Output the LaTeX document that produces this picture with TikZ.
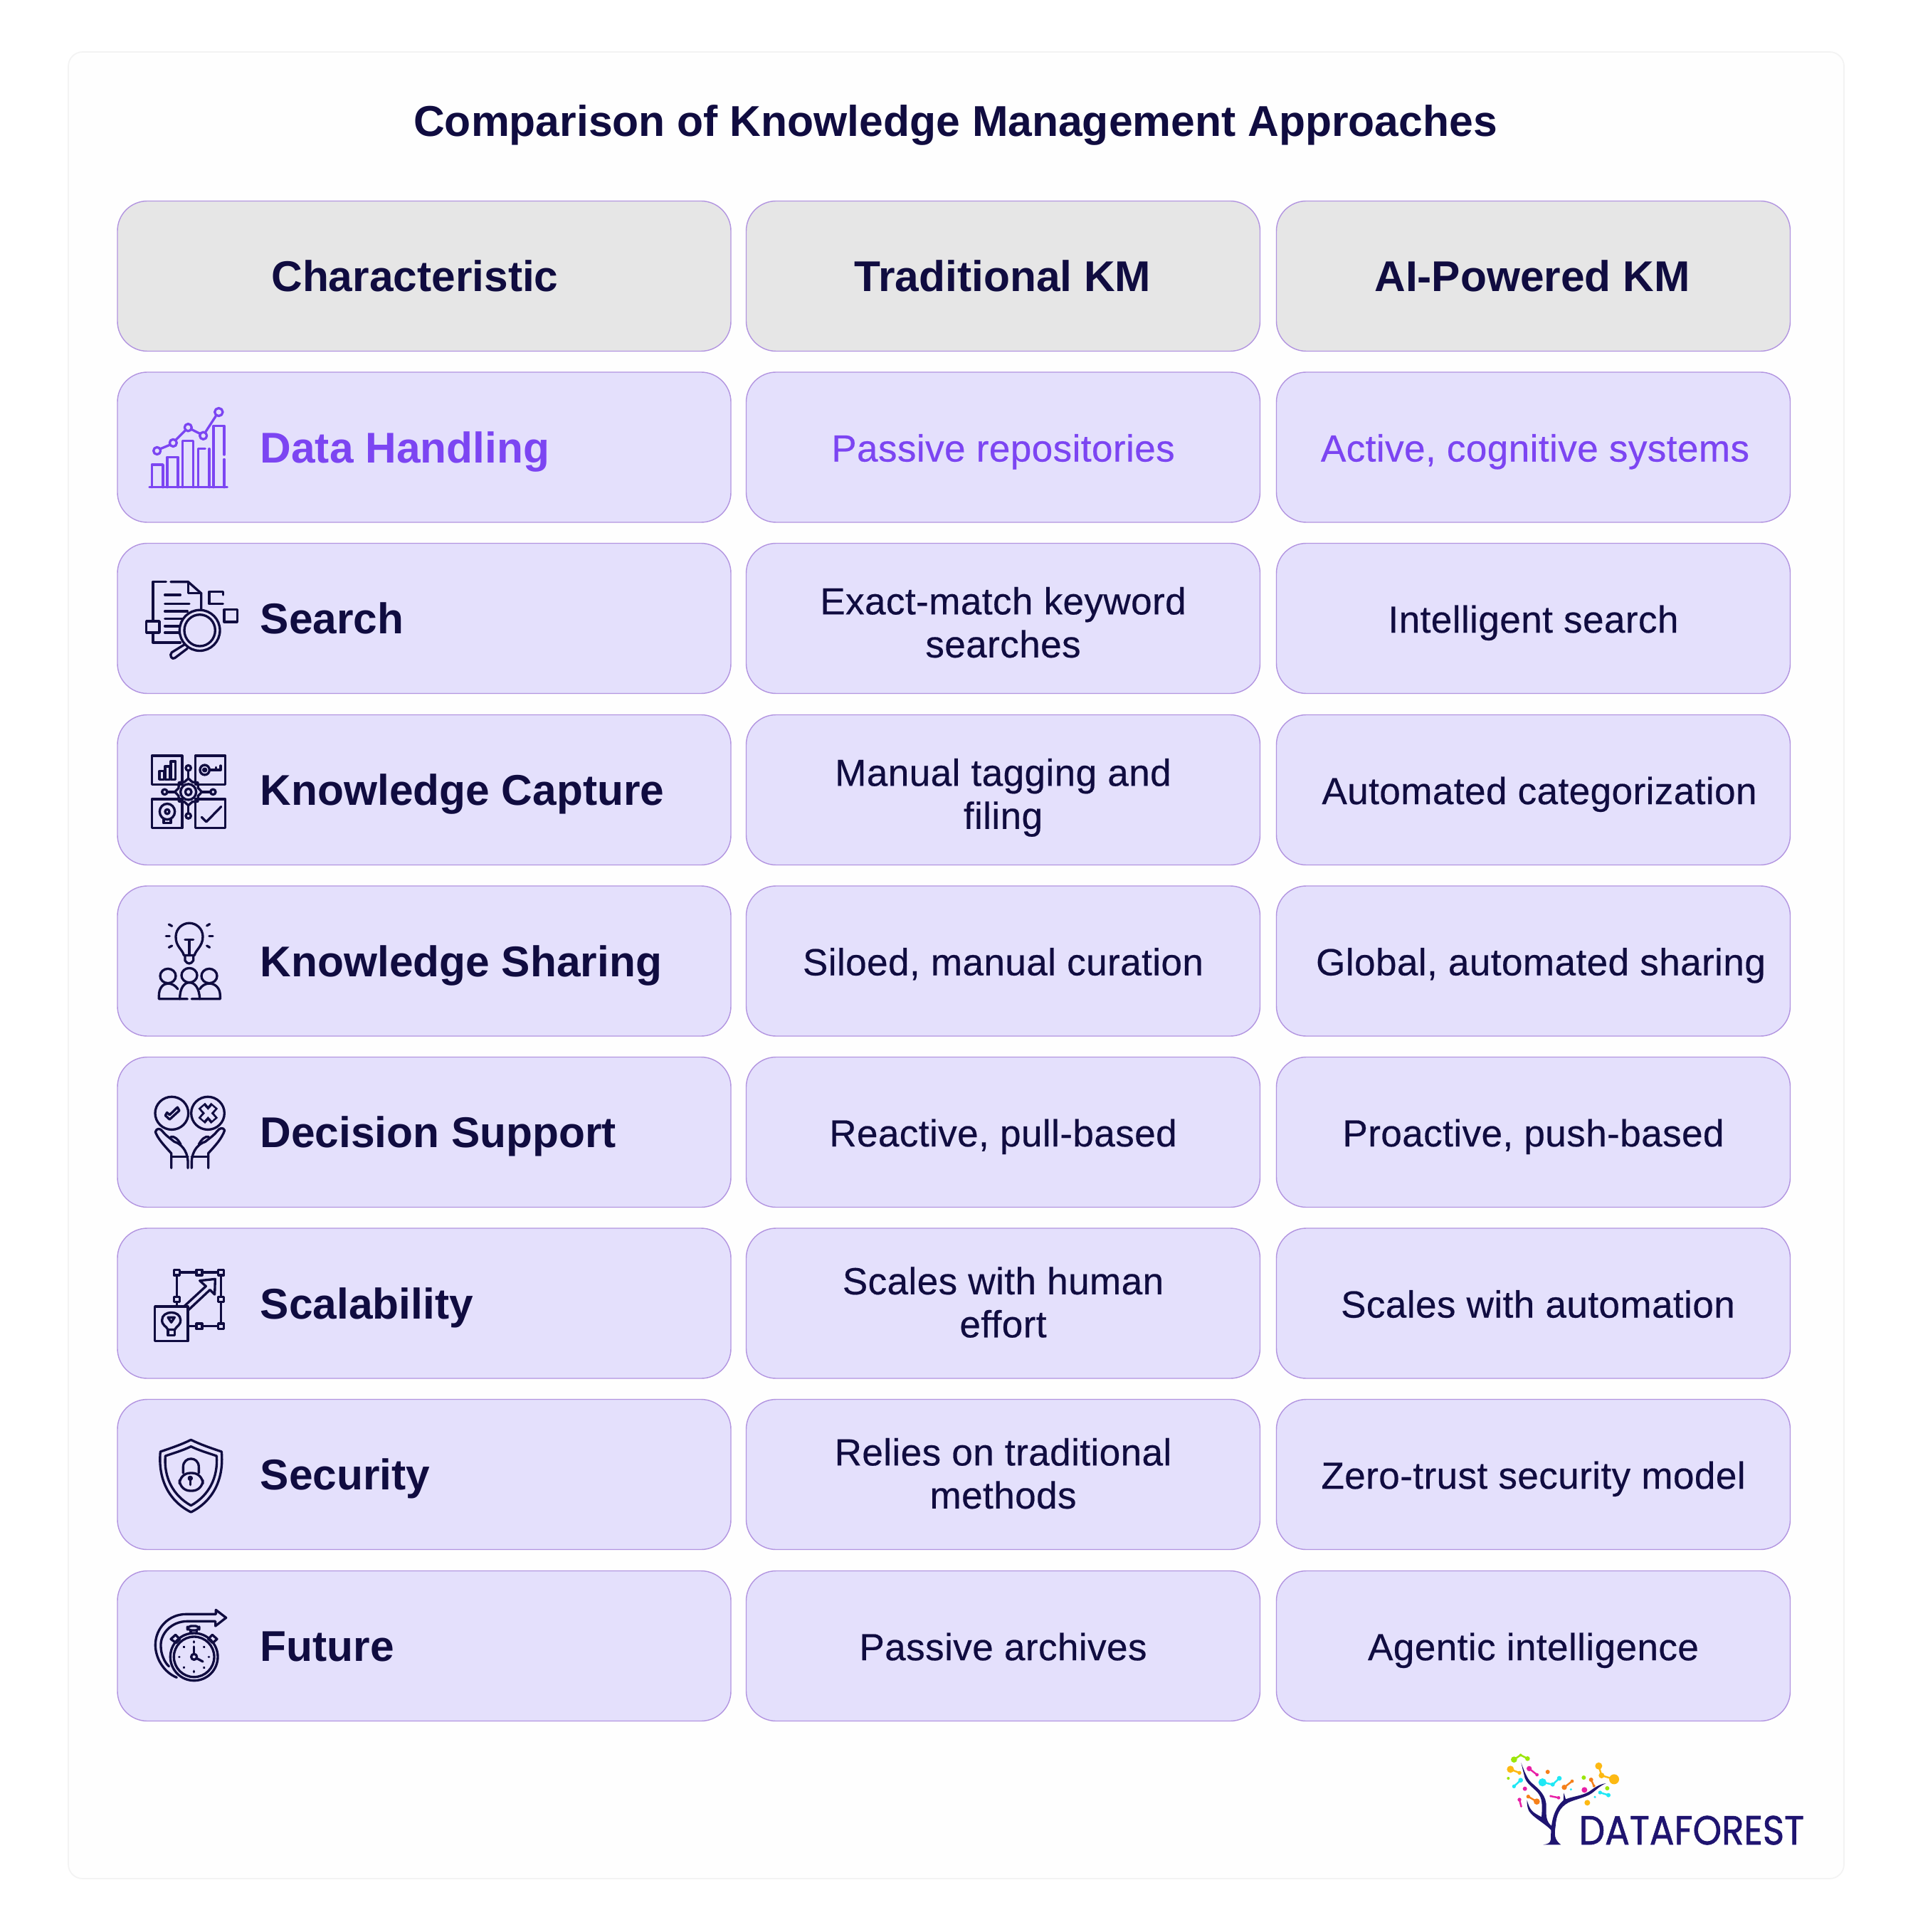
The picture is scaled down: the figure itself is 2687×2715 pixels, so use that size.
\documentclass[tikz,border=0pt]{standalone}
\usepackage{fontspec}
\setmainfont{Liberation Sans}
\newfontfamily\mediumfont[FakeBold=0.4,LetterSpace=0.8]{Liberation Sans}
\newfontfamily\strongfont[BoldFont={Liberation Sans Bold}]{Liberation Sans}
\newfontfamily\logofont[FakeBold=1.2]{Poppins}
\definecolor{ink}{HTML}{100C40}
\definecolor{violet}{HTML}{7C45F2}
\definecolor{rowfill}{HTML}{E4E0FC}
\definecolor{headfill}{HTML}{E6E6E6}
\definecolor{cellborder}{HTML}{B294E0}
\definecolor{cardborder}{HTML}{F3F3F3}
\definecolor{cardfill}{HTML}{FEFEFE}
\definecolor{treeink}{HTML}{1F1470}
\definecolor{dotyellow}{HTML}{FDB913}
\definecolor{dotgreen}{HTML}{9BE60A}
\definecolor{dotpink}{HTML}{E81FA6}
\definecolor{dotcyan}{HTML}{1FE8F5}
\definecolor{dotorange}{HTML}{F5801A}
\begin{document}
\begin{tikzpicture}[
        x=0.1mm, y=-0.1mm,
        cell/.style={rectangle, draw=cellborder, line width=0.4pt, rounded corners=4.2mm, inner sep=0pt, minimum height=21.1mm, fill=rowfill},
        wide_cell/.style={cell, minimum width=86.2mm},
        value_cell/.style={cell, minimum width=72.2mm, align=center, text=ink, font=\mediumfont\fontsize{15.1}{17.2}\selectfont},
        single_line/.style={text height=13pt, text depth=1.6pt},
        two_line/.style={text height=32.2pt, text depth=1pt},
        two_line_high/.style={text height=28.2pt, text depth=1pt},
        head_cell/.style={fill=headfill},
        head_label/.style={text=ink, font=\strongfont\bfseries\fontsize{17.2}{20}\selectfont, text height=14.4pt, text depth=2pt, inner sep=0pt},
        row_label/.style={anchor=west, inner sep=0pt, text=ink, font=\strongfont\bfseries\fontsize{17.2}{20}\selectfont, text height=14.4pt, text depth=2pt},
        purple_text/.style={text=violet},
        icon_line/.style={draw=ink, line width=0.95pt, line join=round, line cap=round},
        purple_line/.style={draw=violet, line width=0.95pt, line join=round, line cap=round},
        logo_dot/.style={line width=0.7pt},
        zoom_tall/.style={xscale=1/3, yscale=1/2.167},
        zoom_flat/.style={xscale=1/3, yscale=1/3}
    ]

        \useasboundingbox (0,0) rectangle (2687,2715);
        \node[rectangle, draw=cardborder, fill=cardfill, line width=0.5pt, rounded corners=2mm, minimum width=249.5mm, minimum height=256.7mm, inner sep=0pt] (card) at (1343.5,1356.5) {};

        \node[text=ink, font=\strongfont\bfseries\fontsize{17.25}{20}\selectfont, inner sep=0pt, text height=14.4pt, text depth=2pt] (title) at (1342.5,170) {Comparison of Knowledge Management Approaches};

        % Header row
        \node[wide_cell, head_cell] (head_name) at (596,388) {};
        \node[head_label] (head_name_label) at (583,388) {Characteristic};
        \node[value_cell, head_cell] (head_trad) at (1409.5,388) {};
        \node[head_label] (head_trad_label) at (1409,388) {Traditional KM};
        \node[value_cell, head_cell] (head_ai) at (2154.5,388) {};
        \node[head_label] (head_ai_label) at (2153,388) {AI-Powered KM};

        % Row: Data Handling
        \node[wide_cell] (data_name) at (596,628.5) {};
        \node[row_label, purple_text] (data_label) at (365,628.5) {Data Handling};
        \node[value_cell, single_line, purple_text] (data_trad) at (1409.5,628.5) {Passive repositories};
        \node[value_cell] (data_ai) at (2154.5,628.5) {};
        \node[value_cell, single_line, purple_text, draw=none, fill=none] (data_ai_label) at (2157,628.5) {Active, cognitive systems};

        % Row: Search
        \node[wide_cell] (search_name) at (596,869) {};
        \node[row_label] (search_label) at (365,869) {Search};
        \node[value_cell, two_line] (search_trad) at (1409.5,869) {Exact-match keyword\\searches};
        \node[value_cell, single_line] (search_ai) at (2154.5,869) {Intelligent search};

        % Row: Knowledge Capture
        \node[wide_cell] (capture_name) at (596,1110) {};
        \node[row_label] (capture_label) at (365,1110) {Knowledge Capture};
        \node[value_cell, two_line] (capture_trad) at (1409.5,1110) {Manual tagging and\\filing};
        \node[value_cell] (capture_ai) at (2154.5,1110) {};
        \node[value_cell, single_line, draw=none, fill=none] (capture_ai_label) at (2163,1110) {Automated categorization};

        % Row: Knowledge Sharing
        \node[wide_cell] (sharing_name) at (596,1350.5) {};
        \node[row_label] (sharing_label) at (365,1350.5) {Knowledge Sharing};
        \node[value_cell, single_line] (sharing_trad) at (1409.5,1350.5) {Siloed, manual curation};
        \node[value_cell] (sharing_ai) at (2154.5,1350.5) {};
        \node[value_cell, single_line, draw=none, fill=none] (sharing_ai_label) at (2165,1350.5) {Global, automated sharing};

        % Row: Decision Support
        \node[wide_cell] (decision_name) at (596,1591) {};
        \node[row_label] (decision_label) at (365,1591) {Decision Support};
        \node[value_cell, single_line] (decision_trad) at (1409.5,1591) {Reactive, pull-based};
        \node[value_cell, single_line] (decision_ai) at (2154.5,1591) {Proactive, push-based};

        % Row: Scalability
        \node[wide_cell] (scale_name) at (596,1831.5) {};
        \node[row_label] (scale_label) at (365,1831.5) {Scalability};
        \node[value_cell, two_line_high] (scale_trad) at (1409.5,1831.5) {Scales with human\\effort};
        \node[value_cell] (scale_ai) at (2154.5,1831.5) {};
        \node[value_cell, single_line, draw=none, fill=none] (scale_ai_label) at (2161,1831.5) {Scales with automation};

        % Row: Security
        \node[wide_cell] (security_name) at (596,2072) {};
        \node[row_label] (security_label) at (365,2072) {Security};
        \node[value_cell, two_line_high] (security_trad) at (1409.5,2072) {Relies on traditional\\methods};
        \node[value_cell, single_line] (security_ai) at (2154.5,2072) {Zero-trust security model};

        % Row: Future
        \node[wide_cell] (future_name) at (596,2313) {};
        \node[row_label] (future_label) at (365,2313) {Future};
        \node[value_cell, single_line] (future_trad) at (1409.5,2313) {Passive archives};
        \node[value_cell, single_line] (future_ai) at (2154.5,2313) {Agentic intelligence};

        % Icons of rows 1 to 3
        \begin{scope}[shift={(150,520)}, zoom_tall]
            % chart
            \draw[purple_line] (180,357) -- (508,357);
            \draw[purple_line] (190,357) -- (190,288) -- (237,288) -- (237,357);
            \draw[purple_line] (255,357) -- (255,265) -- (300,265) -- (300,357);
            \draw[purple_line] (320,357) -- (320,215) -- (365,215) -- (365,357);
            \draw[purple_line] (385,357) -- (385,240) -- (415,240);
            \draw[purple_line] (432,240) -- (432,357);
            \draw[purple_line] (450,357) -- (450,170) -- (495,170) -- (495,258);
            \draw[purple_line] (495,272) -- (495,357);
            \draw[purple_line] (226,240) -- (266,228);
            \draw[purple_line] (292,212) -- (330,185);
            \draw[purple_line] (358,181) -- (393,194);
            \draw[purple_line] (417,188) -- (460,140);
            \draw[purple_line] (212,246) ellipse (15 and 11);
            \draw[purple_line] (280,222) ellipse (15 and 11);
            \draw[purple_line] (343,175) ellipse (15 and 11);
            \draw[purple_line] (407,200) ellipse (15 and 11);
            \draw[purple_line] (472,128) ellipse (17 and 12);

            % document under a lens
            \draw[icon_line] (250,645) -- (195,645) -- (195,762);
            \draw[icon_line] (195,800) -- (195,830) -- (310,830);
            \draw[icon_line] (270,645) -- (343,645) -- (398,680) -- (398,730);
            \draw[icon_line] (343,645) -- (343,680) -- (398,680);
            \draw[icon_line] (167,765) rectangle (222,800);
            \draw[icon_line] (245,685) -- (310,685);
            \draw[icon_line] (245,712) -- (348,712);
            \draw[icon_line] (245,735) -- (340,735);
            \draw[icon_line] (245,758) -- (320,758);
            \draw[icon_line] (245,780) -- (305,780);
            \draw[icon_line] (245,800) -- (305,800);
            \draw[icon_line] (392,793) ellipse (85 and 62);
            \draw[icon_line] (392,793) ellipse (65 and 48);
            \draw[icon_line] (330,835) -- (274,860) .. controls (262,868) and (275,884) .. (287,877) -- (340,848);
            \draw[icon_line] (490,685) -- (490,675) -- (432,675) -- (432,712) -- (490,712);
            \draw[icon_line] (495,730) rectangle (550,767);

            % four panels round a gear
            \draw[icon_line] (190,1175) rectangle (318,1262);
            \draw[icon_line] (222,1222) rectangle (242,1247);
            \draw[icon_line] (246,1207) rectangle (266,1247);
            \draw[icon_line] (270,1192) rectangle (290,1247);
            \draw[icon_line] (373,1175) rectangle (500,1262);
            \draw[icon_line] (413,1218) ellipse (20 and 15);
            \draw[icon_line] (413,1218) ellipse (6 and 4);
            \draw[icon_line] (435,1218) -- (480,1218) -- (480,1205);
            \draw[icon_line] (460,1218) -- (460,1210);
            \draw[icon_line] (190,1307) rectangle (318,1395);
            \draw[icon_line] (255,1345) ellipse (32 and 24);
            \draw[icon_line] (255,1345) ellipse (9 and 7);
            \draw[icon_line] (240,1369) -- (240,1380) -- (270,1380) -- (270,1369);
            \draw[icon_line] (373,1307) rectangle (500,1395);
            \draw[icon_line] (400,1362) -- (420,1376) -- (482,1330);
            \draw[icon_line] (401,1285) -- (385,1297) -- (384,1314) -- (361,1315) -- (344,1326) -- (327,1315) -- (304,1314) -- (303,1297) -- (287,1285) -- (303,1273) -- (304,1256) -- (327,1255) -- (344,1244) -- (361,1255) -- (384,1256) -- (385,1273) -- cycle;
            \draw[icon_line] (344,1285) ellipse (33 and 24);
            \draw[icon_line] (344,1285) ellipse (13 and 10);
            \draw[icon_line] (344,1212) ellipse (11 and 8);
            \draw[icon_line] (344,1220) -- (344,1244);
            \draw[icon_line] (344,1358) ellipse (11 and 8);
            \draw[icon_line] (344,1326) -- (344,1350);
            \draw[icon_line] (244,1285) ellipse (11 and 8);
            \draw[icon_line] (255,1285) -- (287,1285);
            \draw[icon_line] (448,1285) ellipse (11 and 8);
            \draw[icon_line] (401,1285) -- (437,1285);
        \end{scope}

        % Icons of rows 4 to 6
        \begin{scope}[shift={(150,1240)}, zoom_tall]
            % bulb over three people
            \draw[icon_line] (325,222) .. controls (320,205) and (290,195) .. (291,165) .. controls (292,140) and (320,124) .. (348,124) .. controls (376,124) and (405,140) .. (405,165) .. controls (405,195) and (375,205) .. (370,222) -- cycle;
            \draw[icon_line] (330,222) -- (330,238) .. controls (340,250) and (355,250) .. (365,238) -- (365,222);
            \draw[icon_line] (330,175) -- (365,175);
            \draw[icon_line] (348,175) -- (348,222);
            \draw[icon_line] (262,128) -- (275,133);
            \draw[icon_line] (250,163) -- (265,163);
            \draw[icon_line] (262,198) -- (275,193);
            \draw[icon_line] (422,132) -- (434,127);
            \draw[icon_line] (432,163) -- (447,163);
            \draw[icon_line] (422,193) -- (434,198);
            \draw[icon_line] (258,285) ellipse (33 and 22);
            \draw[icon_line] (348,283) ellipse (33 and 22);
            \draw[icon_line] (432,285) ellipse (33 and 22);
            \draw[icon_line] (340,355) -- (220,355) -- (220,345) .. controls (220,320) and (240,308) .. (258,308) .. controls (275,308) and (290,315) .. (300,325);
            \draw[icon_line] (358,355) -- (478,355) -- (478,345) .. controls (478,320) and (455,308) .. (432,308) .. controls (415,308) and (400,315) .. (392,325);
            \draw[icon_line] (308,355) .. controls (308,320) and (328,305) .. (348,305) .. controls (370,305) and (390,320) .. (392,355);

            % two marks held in hands
            \draw[icon_line] (274,703) ellipse (70 and 50);
            \draw[icon_line] (426,703) ellipse (70 and 50);
            \draw[icon_line] (247,710) -- (265,722) -- (306,695) -- (298,685) -- (265,708) -- (254,701) -- cycle;
            \draw[icon_line, line width=3.6pt, line cap=butt] (400,680) -- (454,726);
            \draw[icon_line, line width=3.6pt, line cap=butt] (454,680) -- (400,726);
            \draw[line width=1.7pt, draw=rowfill] (404,685) -- (450,721);
            \draw[line width=1.7pt, draw=rowfill] (450,685) -- (404,721);
            \draw[icon_line] (272,870) -- (272,825) .. controls (240,800) and (215,780) .. (205,760) .. controls (210,748) and (225,748) .. (235,758) .. controls (250,772) and (265,778) .. (285,790) .. controls (310,795) and (340,815) .. (342,850) -- (342,870);
            \draw[icon_line] (270,775) .. controls (285,772) and (300,782) .. (312,798);
            \draw[icon_line] (272,835) -- (342,835);
            \draw[icon_line] (428,870) -- (428,825) .. controls (460,800) and (485,780) .. (497,755) .. controls (490,745) and (475,748) .. (465,758) .. controls (450,772) and (435,778) .. (415,790) .. controls (390,795) and (360,815) .. (358,850) -- (358,870);
            \draw[icon_line] (430,775) .. controls (415,772) and (400,782) .. (388,798);
            \draw[icon_line] (358,835) -- (428,835);

            % growing frame with a bulb
            \draw[icon_line] (295,1188) -- (482,1188) -- (482,1352) -- (345,1352);
            \draw[icon_line] (295,1188) -- (295,1292);
            \draw[icon_line, fill=rowfill] (283,1180) rectangle (307,1196);
            \draw[icon_line, fill=rowfill] (378,1180) rectangle (402,1196);
            \draw[icon_line, fill=rowfill] (470,1180) rectangle (494,1196);
            \draw[icon_line, fill=rowfill] (470,1262) rectangle (494,1278);
            \draw[icon_line, fill=rowfill] (470,1344) rectangle (494,1360);
            \draw[icon_line, fill=rowfill] (378,1344) rectangle (402,1360);
            \draw[icon_line, fill=rowfill] (283,1262) rectangle (307,1278);
            \draw[icon_line] (203,1292) rectangle (342,1397);
            \draw[icon_line] (258,1362) .. controls (250,1350) and (233,1350) .. (233,1333) .. controls (233,1318) and (252,1310) .. (272,1310) .. controls (292,1310) and (311,1318) .. (311,1333) .. controls (311,1350) and (295,1350) .. (287,1362) -- cycle;
            \draw[icon_line] (258,1362) -- (258,1380) -- (287,1380) -- (287,1362);
            \draw[icon_line] (258,1325) -- (286,1325) -- (272,1340) -- cycle;
            \draw[icon_line] (328,1290) -- (418,1230) -- (392,1213) -- (457,1208) -- (455,1255) -- (435,1241) -- (345,1302);
        \end{scope}

        % Icons of rows 7 and 8
        \begin{scope}[shift={(150,1960)}, zoom_flat]
            % shield with a lock
            \draw[icon_line] (355,190) .. controls (395,210) and (440,225) .. (484,240) .. controls (495,360) and (445,450) .. (355,495) .. controls (265,450) and (215,360) .. (226,240) .. controls (270,225) and (315,210) .. (355,190) -- cycle;
            \draw[icon_line] (355,218) .. controls (390,235) and (425,245) .. (463,258) .. controls (470,350) and (430,425) .. (355,467) .. controls (280,425) and (240,350) .. (247,258) .. controls (285,245) and (320,235) .. (355,218) -- cycle;
            \draw[icon_line, rounded corners=1.5mm] (307,330) rectangle (405,405);
            \draw[icon_line] (322,330) -- (322,305) .. controls (322,258) and (388,258) .. (388,305) -- (388,330);
            \draw[icon_line, fill=ink] (352,352) circle (6);
            \draw[icon_line] (352,358) -- (352,380);

            % stopwatch with an arrow
            \draw[icon_line] (368,1105) circle (100);
            \draw[icon_line] (368,1105) circle (85);
            \draw[icon_line, rounded corners=0.5mm] (340,975) rectangle (390,993);
            \draw[icon_line] (354,993) -- (354,1005);
            \draw[icon_line] (380,993) -- (380,1005);
            \draw[icon_line] (270,1030) -- (290,1012) -- (308,1030) -- (292,1046) -- cycle;
            \draw[icon_line] (428,1030) -- (445,1012) -- (465,1030) -- (447,1046) -- cycle;
            \draw[icon_line] (368,1093) -- (368,1062);
            \draw[icon_line] (379,1111) -- (405,1125);
            \draw[icon_line] (368,1105) circle (12);
            \draw[icon_line] (368,1040) -- (368,1044);
            \draw[icon_line] (410,1063) -- (411,1064);
            \draw[icon_line] (430,1105) -- (431,1105);
            \draw[icon_line] (410,1150) -- (411,1151);
            \draw[icon_line] (368,1165) -- (368,1169);
            \draw[icon_line] (325,1150) -- (326,1149);
            \draw[icon_line] (305,1105) -- (306,1105);
            \draw[icon_line] (325,1063) -- (326,1064);
            \draw[icon_line] (295,1192) .. controls (240,1170) and (205,1110) .. (205,1055) .. controls (205,985) and (260,925) .. (335,925) -- (460,925) -- (460,907) -- (503,940) -- (458,975) -- (458,955) -- (340,955) .. controls (270,955) and (225,1010) .. (228,1060) .. controls (228,1095) and (245,1130) .. (262,1145);
        \end{scope}

        % Logo
        \begin{scope}[shift={(2080,2420)}, zoom_flat]
            \fill[treeink] (265,517) .. controls (285,514) and (295,510) .. (297,495) -- (298,455) .. controls (270,425) and (225,405) .. (205,375) .. controls (198,360) and (196,345) .. (197,330) .. controls (203,350) and (208,365) .. (222,378) .. controls (240,392) and (255,398) .. (258,400) .. controls (262,350) and (262,320) .. (240,295) .. controls (215,270) and (190,255) .. (185,225) -- (172,172) .. controls (185,205) and (195,235) .. (215,255) .. controls (250,285) and (280,310) .. (278,360) .. controls (276,400) and (280,420) .. (300,438) .. controls (305,395) and (320,355) .. (350,330) -- (352,298) -- (360,325) .. controls (400,310) and (440,310) .. (470,285) .. controls (490,270) and (510,260) .. (530,258) .. controls (505,268) and (490,285) .. (470,300) .. controls (440,320) and (400,325) .. (370,340) .. controls (335,360) and (320,390) .. (317,440) .. controls (312,470) and (310,495) .. (340,517) -- cycle;

            \draw[dotgreen, logo_dot] (142,158) -- (170,139) -- (199,154);
            \fill[dotgreen] (142,158) circle (13);
            \fill[dotgreen] (170,139) circle (6);
            \fill[dotgreen] (199,154) circle (10);
            \draw[dotyellow, logo_dot] (127,199) -- (165,214);
            \fill[dotyellow] (127,199) circle (15);
            \fill[dotyellow] (165,214) circle (8);
            \draw[dotpink, logo_dot] (206,196) -- (239,222);
            \fill[dotpink] (206,196) circle (11);
            \fill[dotpink] (239,222) circle (7);
            \fill[dotorange] (284,210) circle (9);
            \fill[dotgreen] (118,237) circle (6);
            \draw[dotcyan, logo_dot] (170,245) -- (142,271);
            \fill[dotcyan] (170,245) circle (10);
            \fill[dotcyan] (142,271) circle (8);
            \draw[dotcyan, logo_dot] (262,254) -- (305,263) -- (333,237);
            \fill[dotcyan] (262,254) circle (17);
            \fill[dotcyan] (305,263) circle (9);
            \fill[dotcyan] (333,237) circle (10);
            \fill[dotpink] (188,281) circle (9);
            \draw[dotorange, logo_dot] (354,275) -- (387,249);
            \fill[dotorange] (354,275) circle (11);
            \fill[dotorange] (387,249) circle (7);
            \fill[dotcyan] (382,284) circle (5);
            \fill[dotgreen] (436,234) circle (9);
            \draw[dotorange, logo_dot] (467,243) -- (479,269);
            \fill[dotorange] (467,243) circle (9);
            \fill[dotorange] (479,269) circle (6);
            \draw[dotyellow, logo_dot] (499,185) -- (511,225) -- (564,241);
            \fill[dotyellow] (499,185) circle (15);
            \fill[dotyellow] (511,225) circle (12);
            \fill[dotyellow] (564,241) circle (21);
            \fill[dotpink] (439,286) circle (12);
            \fill[dotgreen] (535,279) circle (9);
            \draw[dotcyan, logo_dot] (505,297) -- (540,308);
            \fill[dotcyan] (505,297) circle (8);
            \fill[dotcyan] (540,308) circle (9);
            \fill[dotcyan] (483,316) circle (5);
            \fill[dotyellow] (451,340) circle (12);
            \draw[dotorange, logo_dot] (202,314) -- (238,335);
            \fill[dotorange] (202,314) circle (8);
            \fill[dotorange] (238,335) circle (13);
            \draw[dotpink, logo_dot] (296,312) -- (330,319);
            \fill[dotpink] (296,312) circle (5);
            \fill[dotpink] (330,319) circle (7);
            \draw[dotpink, logo_dot] (165,327) -- (172,355);
            \fill[dotpink] (165,327) circle (8);
            \fill[dotpink] (172,355) circle (5);
        \end{scope}
        \node[anchor=west, inner sep=0pt, text=treeink, font=\logofont\fontsize{16.3}{18}\selectfont] (logo_label) at (2218,2572) {\scalebox{0.9}[1]{DATAFOREST}};

    \end{tikzpicture}
\end{document}
